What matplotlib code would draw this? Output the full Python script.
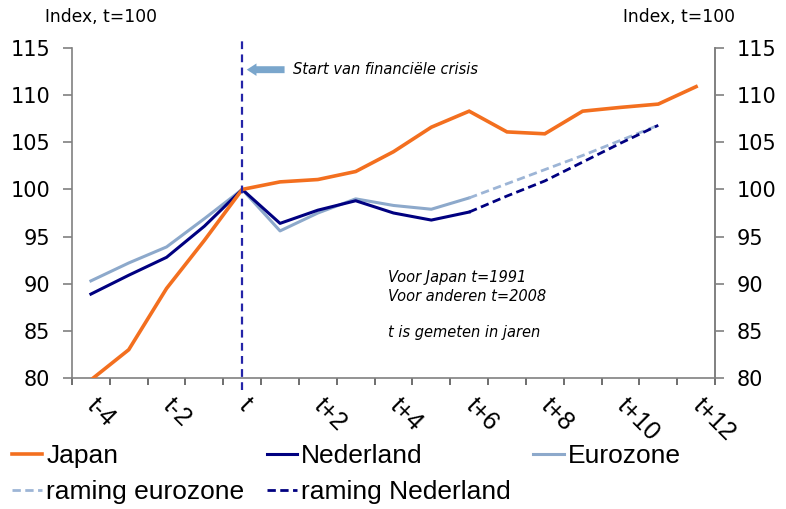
import matplotlib
matplotlib.use("Agg")
import matplotlib.pyplot as plt
import numpy as np

categories = ["t-4", "t-3", "t-2", "t-1", "t", "t+1", "t+2", "t+3", "t+4", "t+5",
              "t+6", "t+7", "t+8", "t+9", "t+10", "t+11", "t+12"]
japan = [79.8, 83.0, 89.5, 94.6, 100.0, 100.8, 101.05, 101.9, 104.0, 106.6,
         108.3, 106.1, 105.9, 108.3, 108.7, 109.05, 110.9]
nederland = [88.9, 90.9, 92.8, 96.1, 100.0, 96.4, 97.8, 98.8, 97.5, 96.75, 97.6]
eurozone = [90.3, 92.2, 93.9, 96.9, 100.0, 95.6, 97.5, 99.0, 98.3, 97.9, 99.1]
raming_eurozone = [99.1, 100.6, 102.1, 103.6, 105.2, 106.8]
raming_nederland = [97.6, 99.3, 100.9, 102.9, 104.9, 106.8]
raming_start = 10
yticks = [80, 85, 90, 95, 100, 105, 110, 115]
xtick_labels = ["t-4", "t-2", "t", "t+2", "t+4", "t+6", "t+8", "t+10", "t+12"]

C_JAP = "#F36F1F"
C_NL = "#000080"
C_EZ = "#8DA9CB"
C_REZ = "#9DB5D6"
C_VLINE = "#2424A8"
C_ARROW = "#7AA6CC"
GRAY = "#808080"

fig = plt.figure(figsize=(7.86, 5.09), dpi=100)
ax = fig.add_axes([72/786, 1-378/509, (715-72)/786, (378-48)/509])

x = np.arange(len(categories))
ax.plot(x, japan, color=C_JAP, lw=2.6, solid_joinstyle="miter", label="Japan", zorder=5)
ax.plot(x[:len(nederland)], nederland, color=C_NL, lw=2.2, label="Nederland", zorder=4)
ax.plot(x[:len(eurozone)], eurozone, color=C_EZ, lw=2.2, label="Eurozone", zorder=3)
xr = x[raming_start:raming_start+len(raming_eurozone)]
ax.plot(xr, raming_eurozone, color=C_REZ, lw=2.0, ls=(0, (3, 1.6)), label="raming eurozone", zorder=3)
ax.plot(xr, raming_nederland, color=C_NL, lw=2.0, ls=(0, (3, 1.6)), label="raming Nederland", zorder=4)

ax.set_xlim(-0.5, len(categories)-0.5)
ax.set_ylim(80, 115)

# vertical crisis line
ax.axvline(4, ymin=-0.035, ymax=1.02, color=C_VLINE, lw=1.6, ls=(0, (3.5, 2.4)), clip_on=False, zorder=6)

# arrow + text
ax.annotate("", xy=(4.12, 112.7), xytext=(5.12, 112.7),
            arrowprops=dict(arrowstyle="simple,head_length=0.7,head_width=0.9,tail_width=0.5",
                            color=C_ARROW, lw=0, shrinkA=0, shrinkB=0))
ax.text(5.34, 112.7, "Start van financiële crisis", fontsize=10.5, style="italic",
        va="center", ha="left", family="DejaVu Sans")
ax.text(7.86, 90.7, "Voor Japan t=1991", fontsize=10.5, style="italic", va="center", ha="left")
ax.text(7.86, 88.6, "Voor anderen t=2008", fontsize=10.5, style="italic", va="center", ha="left")
ax.text(7.86, 84.8, "t is gemeten in jaren", fontsize=10.5, style="italic", va="center", ha="left")

# spines
ax.spines["top"].set_visible(False)
for s in ["left", "right", "bottom"]:
    ax.spines[s].set_color(GRAY)
    ax.spines[s].set_linewidth(1.2)

# x ticks
ax.set_xticks(np.arange(-0.5, len(categories), 1.0), minor=True)
ax.set_xticks(x[::2])
ax.set_xticklabels(xtick_labels, rotation=-45, rotation_mode="anchor", ha="left", va="center",
                   fontsize=18, family="Liberation Sans")
ax.tick_params(axis="x", which="major", length=0, pad=17)
ax.tick_params(axis="x", which="minor", length=5, width=1.2, color="#555555", direction="out")

# y ticks
ax.set_yticks(yticks)
ax.set_yticklabels([str(v) for v in yticks], fontsize=15, family="DejaVu Sans")
ax.tick_params(axis="y", length=6.5, width=1.2, color=GRAY, direction="out", pad=9)

ax2 = ax.twinx()
ax2.set_ylim(80, 115)
ax2.set_yticks(yticks)
ax2.set_yticklabels([str(v) for v in yticks], fontsize=15, family="DejaVu Sans")
ax2.tick_params(axis="y", length=6.5, width=1.2, color=GRAY, direction="out", pad=9)
for s in ["top", "left", "bottom"]:
    ax2.spines[s].set_visible(False)
ax2.spines["right"].set_color(GRAY)
ax2.spines["right"].set_linewidth(1.2)

fig.text(45/786, 1-17/509, "Index, t=100", fontsize=12.3, ha="left", va="center")
fig.text(735/786, 1-17/509, "Index, t=100", fontsize=12.3, ha="right", va="center")

h, l = ax.get_legend_handles_labels()
order = [0, 3, 1, 4, 2]
fig.legend([h[i] for i in order], [l[i] for i in order], ncol=3, loc="upper left",
           bbox_to_anchor=(12/786, 1-444/509), frameon=False,
           prop=dict(family="Liberation Sans", size=19),
           handlelength=1.15, handletextpad=0.15, columnspacing=0.85,
           labelspacing=0.45, borderpad=0, borderaxespad=0)

fig.savefig("out.png", dpi=100)
